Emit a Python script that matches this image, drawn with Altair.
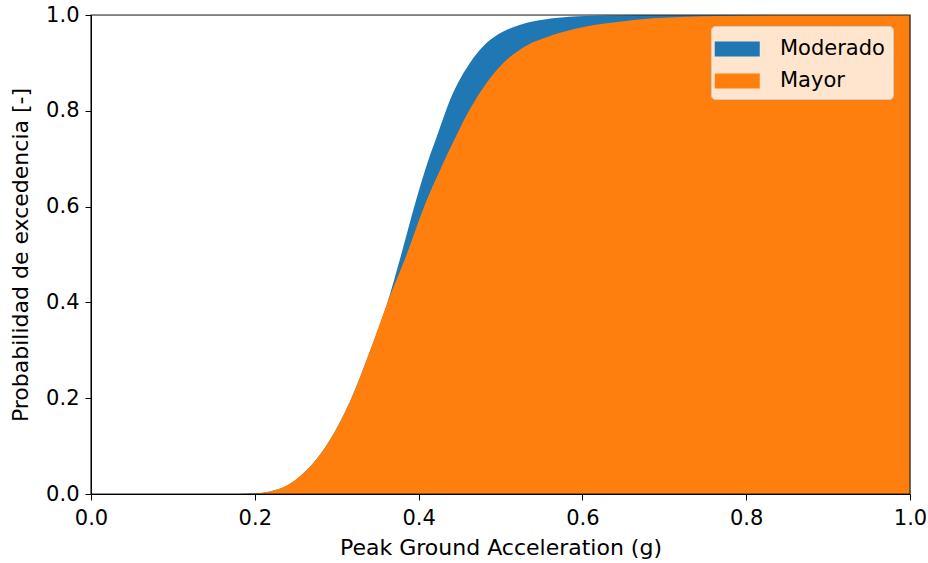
import altair as alt
import pandas as pd

# Fragility curves: probability of exceedance vs. peak ground acceleration
states = ["Moderado", "Mayor"]
colors = ["#1f77b4", "#ff7f0e"]

pga_moderado = [0.0, 0.18, 0.20, 0.22, 0.235, 0.25, 0.268, 0.287, 0.318, 0.341, 0.362,
                0.377, 0.397, 0.41, 0.4216, 0.4419, 0.4622, 0.4825, 0.5028, 0.5232,
                0.5638, 0.6045, 0.65, 0.70, 1.0]
prob_moderado = [0.0, 0.0, 0.001, 0.006, 0.014, 0.030, 0.058, 0.10, 0.20, 0.30, 0.40,
                 0.489, 0.614, 0.687, 0.743, 0.8365, 0.899, 0.941, 0.965, 0.979,
                 0.993, 0.998, 0.9995, 1.0, 1.0]

pga_mayor = [0.0, 0.18, 0.20, 0.22, 0.235, 0.25, 0.268, 0.287, 0.318, 0.341, 0.362,
             0.383, 0.41, 0.429, 0.446, 0.4622, 0.4825, 0.5028, 0.5232, 0.5638,
             0.6045, 0.645, 0.686, 0.726, 0.767, 0.85, 1.0]
prob_mayor = [0.0, 0.0, 0.001, 0.006, 0.014, 0.030, 0.058, 0.10, 0.20, 0.30, 0.40,
              0.489, 0.614, 0.687, 0.748, 0.802, 0.857, 0.899, 0.927, 0.958,
              0.976, 0.986, 0.993, 0.9965, 0.998, 1.0, 1.0]

axis_ticks = [0.0, 0.2, 0.4, 0.6, 0.8, 1.0]

df_mod = pd.DataFrame({"pga": pga_moderado, "prob": prob_moderado, "estado": states[0]})
df_may = pd.DataFrame({"pga": pga_mayor, "prob": prob_mayor, "estado": states[1]})

W, H = 819, 479
FONT = "DejaVu Sans"
FS = 21
TFS = 22

common_axis = dict(
    values=axis_ticks, format=".1f", grid=False,
    labelFontSize=FS, titleFontSize=TFS, labelFont=FONT, titleFont=FONT,
    titleFontWeight="normal", labelColor="black", titleColor="black",
    tickColor="black", domainColor="black", tickSize=6,
    labelFlush=False, labelOverlap=False, labelBound=False, zindex=1,
)

x_enc = alt.X(
    "pga:Q",
    scale=alt.Scale(domain=[0, 1], nice=False, zero=False),
    axis=alt.Axis(title="Peak Ground Acceleration (g)", labelPadding=7,
                  titlePadding=9, **common_axis),
)
y_enc = alt.Y(
    "prob:Q",
    stack=None,
    scale=alt.Scale(domain=[0, 1], nice=False, zero=False),
    axis=alt.Axis(title="Probabilidad de excedencia [-]", labelPadding=6,
                  titlePadding=13, **common_axis),
)
color_enc = alt.Color(
    "estado:N",
    scale=alt.Scale(domain=states, range=colors),
    sort=states,
    legend=alt.Legend(
        title=None, orient="none", legendX=620, legendY=11,
        fillColor="rgba(255,255,255,0.8)", strokeColor="#cccccc",
        cornerRadius=4, padding=8,
        labelFont=FONT, labelFontSize=FS, labelColor="black",
        symbolType="M-1.283,-0.5H1.717V0.5H-1.283Z", symbolSize=900,
        symbolStrokeWidth=0, symbolOpacity=1, rowPadding=7, labelOffset=31,
    ),
)

base = alt.Chart().mark_area(interpolate="monotone", opacity=1).encode(
    x=x_enc, y=y_enc, color=color_enc
)

# Axes frame drawn above the filled areas
frame = alt.Chart(pd.DataFrame({"k": [0]})).mark_rect(
    fill=None, stroke="#222222", strokeWidth=1.2
).encode(
    x=alt.value(0), x2=alt.value(W), y=alt.value(0), y2=alt.value(H)
)

chart = alt.layer(
    base.properties(data=df_mod),
    base.properties(data=df_may),
    frame,
).properties(
    width=W,
    height=H,
    autosize=alt.AutoSizeParams(type="none"),
    padding={"left": 91, "top": 15, "right": 18, "bottom": 69},
).configure_view(
    strokeWidth=0
).configure(background="white")

chart.save("out.html", embed_options={"renderer": "svg", "actions": False})
